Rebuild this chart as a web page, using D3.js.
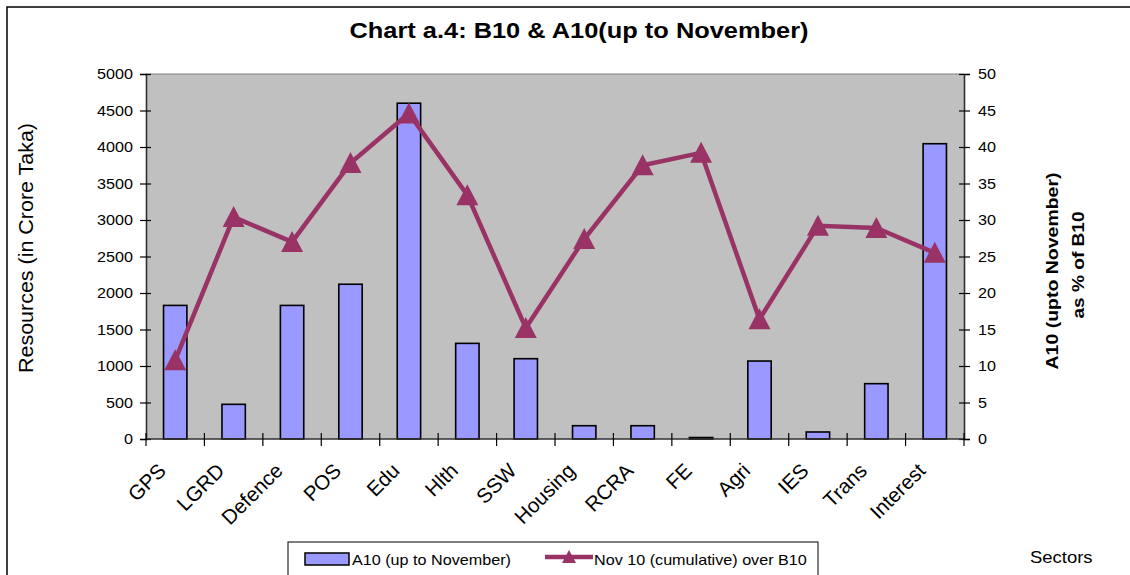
<!DOCTYPE html>
<html>
<head>
<meta charset="utf-8">
<script src="https://cdn.jsdelivr.net/npm/d3@7"></script>
<style>
  html, body { margin: 0; padding: 0; background: #ffffff; }
  svg { display: block; font-family: "Liberation Sans", Arial, sans-serif; }
</style>
</head>
<body>
<svg id="chart" width="1130" height="575"></svg>
<script>
// ---- data ----
const categories = ["GPS","LGRD","Defence","POS","Edu","Hlth","SSW","Housing","RCRA","FE","Agri","IES","Trans","Interest"];
const a10Values = [1830, 475, 1830, 2120, 4600, 1310, 1100, 182, 182, 20, 1068, 96, 758, 4045];
const pctValues = [10.8, 30.4, 27.0, 37.8, 44.6, 33.4, 15.2, 27.4, 37.5, 39.2, 16.4, 29.2, 28.9, 25.5];
const leftTicks = [0, 500, 1000, 1500, 2000, 2500, 3000, 3500, 4000, 4500, 5000];
const rightTicks = [0, 5, 10, 15, 20, 25, 30, 35, 40, 45, 50];
const titleText = "Chart a.4: B10 & A10(up to November)";
const leftAxisTitle = "Resources (in Crore Taka)";
const rightAxisTitle = ["A10 (upto November)", "as % of B10"];
const legendLabels = ["A10 (up to November)", "Nov 10 (cumulative) over B10"];
const xAxisTitle = "Sectors";

// ---- layout ----
const svg = d3.select("#chart");
const plot = { left: 146, right: 964, top: 74, bottom: 439 };
const SX = 1.155; // horizontal stretch of the reference's text
const barColor = "#9999FF";
const lineColor = "#993366";

const x = d3.scaleBand().domain(categories).range([plot.left, plot.right]).padding(0);
const yL = d3.scaleLinear().domain([0, 5000]).range([plot.bottom, plot.top]);
const yR = d3.scaleLinear().domain([0, 50]).range([plot.bottom, plot.top]);

function stretchedText(parent, tx, ty, str, size, weight, anchor) {
  return parent.append("text")
    .attr("transform", `translate(${tx},${ty}) scale(${SX},1)`)
    .attr("font-size", size)
    .attr("font-weight", weight || "normal")
    .attr("text-anchor", anchor || "start")
    .attr("fill", "#000")
    .text(str);
}

// outer chart frame (left + top)
svg.append("path")
  .attr("d", "M7,575 L7,7 L1130,7")
  .attr("fill", "none").attr("stroke", "#000").attr("stroke-width", 1.5);

// plot background
svg.append("rect")
  .attr("x", plot.left).attr("y", plot.top)
  .attr("width", plot.right - plot.left).attr("height", plot.bottom - plot.top)
  .attr("fill", "#C0C0C0");
svg.append("line")
  .attr("x1", plot.left).attr("x2", plot.right).attr("y1", plot.top).attr("y2", plot.top)
  .attr("stroke", "#808080").attr("stroke-width", 1);

// title
stretchedText(svg, 579, 38, titleText, 22, "bold", "middle");

// bars
const bw = x.bandwidth() * 0.4;
svg.append("g").selectAll("rect").data(categories).join("rect")
  .attr("x", (d) => x(d) + (x.bandwidth() - bw) / 2)
  .attr("y", (d, i) => yL(a10Values[i]))
  .attr("width", bw)
  .attr("height", (d, i) => yL(0) - yL(a10Values[i]))
  .attr("fill", barColor)
  .attr("stroke", "#000").attr("stroke-width", 1.6);

// axes
const axisColor = "#303030";
// left axis
const gL = svg.append("g").attr("transform", `translate(${plot.left},0)`)
  .call(d3.axisLeft(yL).tickValues(leftTicks).tickSize(6).tickFormat(""));
gL.select(".domain").attr("stroke", axisColor).attr("stroke-width", 1.6);
gL.selectAll(".tick line").attr("x1", 5).attr("stroke", "#000").attr("stroke-width", 1.2);
leftTicks.forEach((t) => stretchedText(svg, 133, yL(t) + 5, String(t), 14, "normal", "end"));

// right axis
const gR = svg.append("g").attr("transform", `translate(${plot.right},0)`)
  .call(d3.axisRight(yR).tickValues(rightTicks).tickSize(6).tickFormat(""));
gR.select(".domain").attr("stroke", axisColor).attr("stroke-width", 1.6);
gR.selectAll(".tick line").attr("x1", -5).attr("stroke", "#000").attr("stroke-width", 1.2);
rightTicks.forEach((t) => stretchedText(svg, 978, yR(t) + 5, String(t), 14, "normal", "start"));

// bottom axis (ticks at category boundaries)
svg.append("line")
  .attr("x1", plot.left).attr("x2", plot.right).attr("y1", plot.bottom).attr("y2", plot.bottom)
  .attr("stroke", axisColor).attr("stroke-width", 1.6);
const boundaries = categories.map((c) => x(c)).concat([x(categories[categories.length - 1]) + x.bandwidth()]);
svg.append("g").selectAll("line").data(boundaries).join("line")
  .attr("x1", (d) => d).attr("x2", (d) => d)
  .attr("y1", plot.bottom - 6).attr("y2", plot.bottom + 7)
  .attr("stroke", "#000").attr("stroke-width", 1.2);

// category labels
svg.append("g").selectAll("text").data(categories).join("text")
  .attr("transform", (d) => `translate(${x(d) + x.bandwidth() / 2 - 8},${472}) rotate(-45)`)
  .attr("text-anchor", "end")
  .attr("font-size", 20.5)
  .attr("fill", "#000")
  .text((d) => d);

// line series
const line = d3.line()
  .x((d, i) => x(categories[i]) + x.bandwidth() / 2)
  .y((d) => yR(d));
svg.append("path")
  .datum(pctValues)
  .attr("d", line)
  .attr("fill", "none")
  .attr("stroke", lineColor)
  .attr("stroke-width", 4.5)
  .attr("stroke-linejoin", "miter");
const tri = "M0,-11 L11,10 L-11,10 Z";
svg.append("g").selectAll("path").data(pctValues).join("path")
  .attr("d", tri)
  .attr("transform", (d, i) => `translate(${x(categories[i]) + x.bandwidth() / 2},${yR(d)})`)
  .attr("fill", lineColor);

// axis titles
svg.append("text")
  .attr("transform", `translate(33,248) rotate(-90)`)
  .attr("text-anchor", "middle")
  .attr("font-size", 20)
  .attr("textLength", 250).attr("lengthAdjust", "spacingAndGlyphs")
  .attr("fill", "#000")
  .text(leftAxisTitle);
svg.append("text")
  .attr("transform", `translate(1058,271) rotate(-90)`)
  .attr("text-anchor", "middle")
  .attr("font-size", 17).attr("font-weight", "bold")
  .attr("textLength", 197).attr("lengthAdjust", "spacingAndGlyphs")
  .attr("fill", "#000")
  .text(rightAxisTitle[0]);
svg.append("text")
  .attr("transform", `translate(1084,265) rotate(-90)`)
  .attr("text-anchor", "middle")
  .attr("font-size", 17).attr("font-weight", "bold")
  .attr("textLength", 107).attr("lengthAdjust", "spacingAndGlyphs")
  .attr("fill", "#000")
  .text(rightAxisTitle[1]);

stretchedText(svg, 1030, 563, xAxisTitle, 16, "normal", "start");

// legend
const lg = svg.append("g");
lg.append("rect")
  .attr("x", 288).attr("y", 542).attr("width", 530).attr("height", 45)
  .attr("fill", "#fff").attr("stroke", "#000").attr("stroke-width", 1);
lg.append("rect")
  .attr("x", 305).attr("y", 553).attr("width", 44).attr("height", 12)
  .attr("fill", barColor).attr("stroke", "#000").attr("stroke-width", 1.5);
stretchedText(lg, 352, 565, legendLabels[0], 14, "normal", "start");
lg.append("line")
  .attr("x1", 545).attr("x2", 593).attr("y1", 557).attr("y2", 557)
  .attr("stroke", lineColor).attr("stroke-width", 4.5);
lg.append("path")
  .attr("d", "M0,-7 L7,6 L-7,6 Z")
  .attr("transform", "translate(569,557)")
  .attr("fill", lineColor);
stretchedText(lg, 594, 565, legendLabels[1], 14, "normal", "start");
</script>
</body>
</html>
